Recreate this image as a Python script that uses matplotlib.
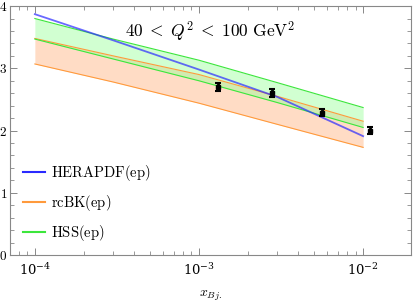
import numpy as np
import matplotlib
matplotlib.use('Agg')
import matplotlib.pyplot as plt
from matplotlib.ticker import LogLocator, MultipleLocator, FuncFormatter

plt.rcParams['mathtext.fontset'] = 'cm'
plt.rcParams['font.family'] = 'DejaVu Serif'

# model curves, sampled in x_Bj
x_model = [1e-4, 3e-4, 1e-3, 3e-3, 1e-2]
hera = [3.87, 3.45, 2.98, 2.54, 1.91]
hss_hi = [3.80, 3.47, 3.13, 2.77, 2.37]
hss_lo = [3.47, 3.15, 2.80, 2.45, 2.05]
rcbk_hi = [3.48, 3.20, 2.90, 2.55, 2.15]
rcbk_lo = [3.07, 2.78, 2.44, 2.10, 1.73]

# data points
x_data = [1.30e-3, 2.80e-3, 5.6e-3, 1.10e-2]
y_data = [2.70, 2.60, 2.29, 2.00]
y_err = [0.06, 0.06, 0.06, 0.06]

blue = '#2a2aff'
orange = '#ff9a3c'
green = '#3ce63c'

fig = plt.figure(figsize=(4.14, 3.04), dpi=100)
ax = fig.add_axes([0.024, 0.161, 0.969, 0.819])

ax.fill_between(x_model, rcbk_lo, rcbk_hi, color='#ffd9bf', lw=0, alpha=0.9)
ax.plot(x_model, rcbk_lo, color=orange, lw=0.8)
ax.plot(x_model, rcbk_hi, color=orange, lw=0.8)
ax.fill_between(x_model, hss_lo, hss_hi, color='#99ff99', lw=0, alpha=0.45)
ax.plot(x_model, hss_lo, color=green, lw=0.8)
ax.plot(x_model, hss_hi, color=green, lw=0.8)
ax.plot(x_model, hera, color=blue, lw=1.3, alpha=0.7)

ax.errorbar(x_data, y_data, yerr=y_err, fmt='s', color='k', ms=3,
            elinewidth=2, capsize=2.5, capthick=1.5)

# legend handles
ax.plot([], [], color=blue, lw=1.5, label=r'$\mathrm{HERAPDF(ep)}$')
ax.plot([], [], color=orange, lw=1.5, label=r'$\mathrm{rcBK(ep)}$')
ax.plot([], [], color=green, lw=1.5, label=r'$\mathrm{HSS(ep)}$')
h, l = ax.get_legend_handles_labels()
ax.legend(h[-3:], l[-3:], loc='lower left', bbox_to_anchor=(0.0, -0.005),
          frameon=False, fontsize=10.5, handlelength=1.5, labelspacing=0.7,
          handletextpad=0.4)

ax.text(0.5, 0.895, r'$40\;<\;Q^2\;<\;100\ \mathrm{GeV}^2$', transform=ax.transAxes,
        ha='center', va='center', fontsize=12.5)

ax.set_xscale('log')
ax.set_xlim(7.05e-5, 1.96e-2)
ax.set_ylim(0, 4)
ax.xaxis.set_major_locator(LogLocator(base=10, numticks=10))
ax.xaxis.set_minor_locator(LogLocator(base=10, subs=np.arange(2, 10), numticks=20))
ax.yaxis.set_major_locator(MultipleLocator(1))
ax.yaxis.set_minor_locator(MultipleLocator(0.2))
ax.yaxis.set_major_formatter(FuncFormatter(lambda v, p: r'$%d$' % v))
ax.tick_params(which='both', direction='in', top=True, right=True,
               color='#888888', labelsize=9.5)
ax.tick_params(which='major', length=5, width=0.7)
ax.tick_params(which='minor', length=3, width=0.6)
ax.tick_params(axis='y', pad=2)
ax.tick_params(axis='x', pad=5)
for s in ax.spines.values():
    s.set_color('#888888')
    s.set_linewidth(0.8)

ax.set_xlabel(r'$x_{Bj.}$', fontsize=10, labelpad=8)

fig.savefig('out.png', dpi=100)
